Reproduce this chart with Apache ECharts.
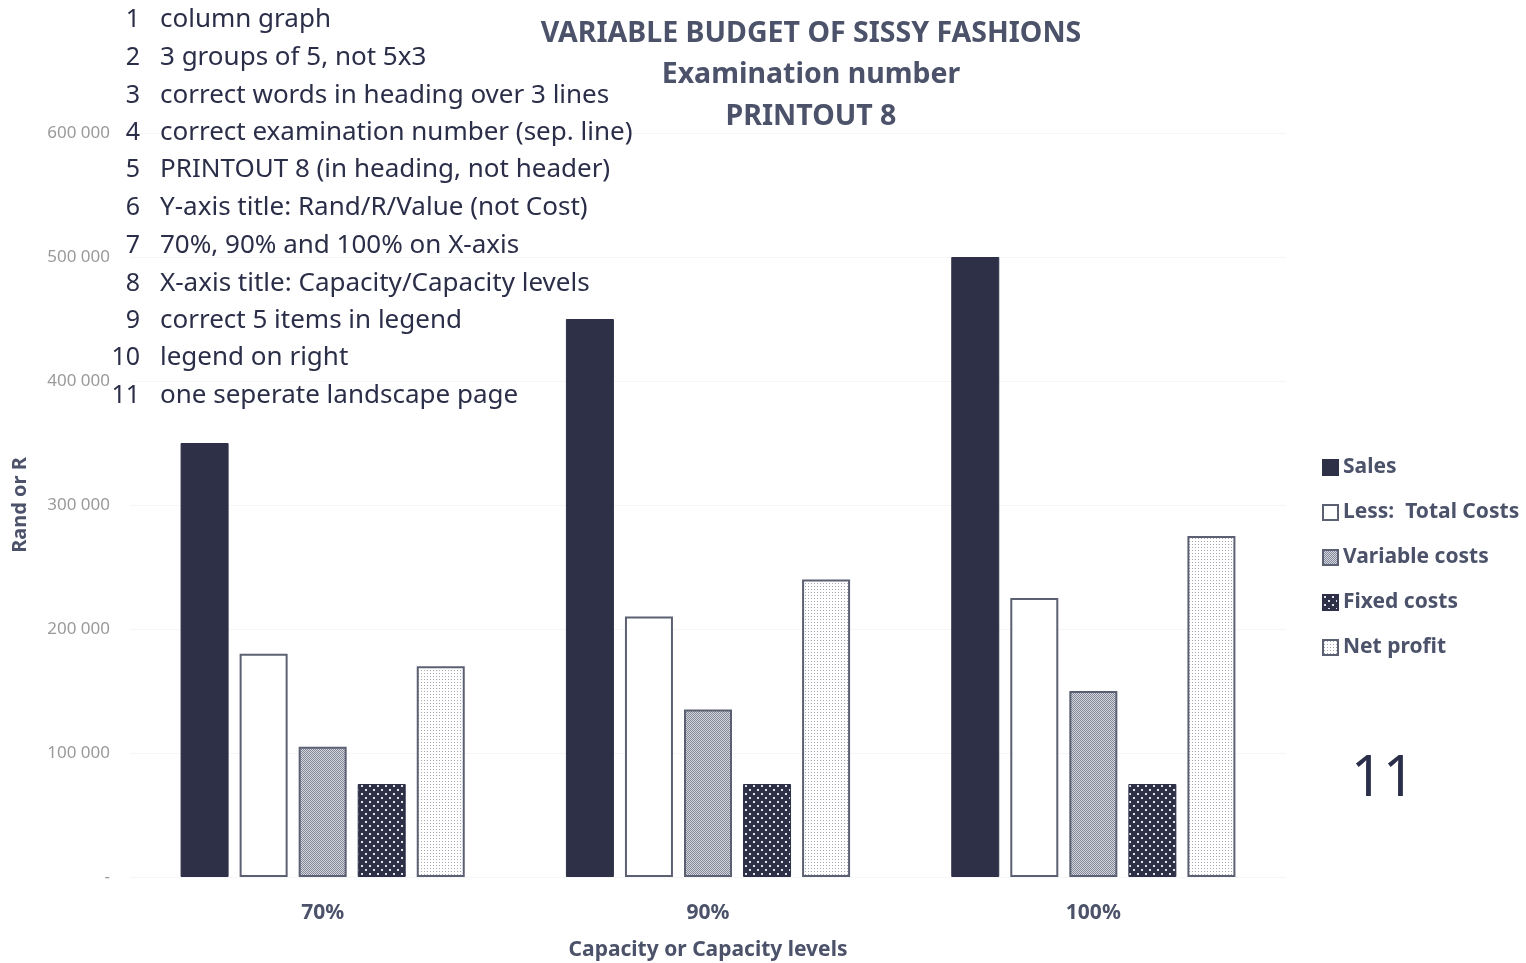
<!DOCTYPE html>
<html>
<head>
<meta charset="utf-8">
<script src="https://cdn.jsdelivr.net/npm/echarts@6/dist/echarts.min.js"></script>
<style>
  html, body { margin: 0; padding: 0; background: #fff; }
  #main { width: 1526px; height: 963px; }
</style>
</head>
<body>
<div id="main"></div>
<script>
var categories = ['70%', '90%', '100%'];
var seriesNames = ['Sales', 'Less:  Total Costs', 'Variable costs', 'Fixed costs', 'Net profit'];
var sales = [350000, 450000, 500000];
var totalCosts = [180000, 210000, 225000];
var variableCosts = [105000, 135000, 150000];
var fixedCosts = [75000, 75000, 75000];
var netProfit = [170000, 240000, 275000];
var notes = [
  'column graph',
  '3 groups of 5, not 5x3',
  'correct words in heading over 3 lines',
  'correct examination number (sep. line)',
  'PRINTOUT 8 (in heading, not header)',
  'Y-axis title: Rand/R/Value (not Cost)',
  '70%, 90% and 100% on X-axis',
  'X-axis title: Capacity/Capacity levels',
  'correct 5 items in legend',
  'legend on right',
  'one seperate landscape page'
];

var ink = '#2b2e48';
var textCol = '#4b5269';

// little canvas tiles for the hatched fills
function tile(size, bg, fg, dots) {
  var c = document.createElement('canvas');
  c.width = size; c.height = size;
  var g = c.getContext('2d');
  g.fillStyle = bg; g.fillRect(0, 0, size, size);
  g.fillStyle = fg;
  dots.forEach(function (d) { g.fillRect(d[0], d[1], d[2], d[2]); });
  return { image: c, repeat: 'repeat' };
}
var varFill = tile(2, '#d3d5dc', '#858999', [[0, 0, 1], [1, 1, 1]]);
var fixFill = tile(8, '#2e3048', '#e3e4ea', [[1, 1, 2], [5, 5, 2]]);
var netFill = tile(3, '#ffffff', '#a3a6b3', [[1, 1, 1]]);

var myChar = echarts.init(document.getElementById('main'));

var graphics = [];
notes.forEach(function (t, i) {
  var y = [20, 58, 96, 133, 170, 208, 246, 284, 321, 358, 396][i];
  graphics.push({
    type: 'text', x: 140, y: y, z: 100,
    style: { text: String(i + 1), fill: ink, font: '25px "Noto Sans"', align: 'right', verticalAlign: 'middle' }
  });
  graphics.push({
    type: 'text', x: 160, y: y, z: 100,
    style: { text: t, fill: ink, font: '26px "Noto Sans"', align: 'left', verticalAlign: 'middle' }
  });
});
graphics.push({
  type: 'text', x: 1383, y: 780,
  style: { text: '11', fill: ink, font: '56px "Noto Sans"', align: 'center', verticalAlign: 'middle' }
});

var myOption = {
  backgroundColor: '#fff',
  title: {
    text: 'VARIABLE BUDGET OF SISSY FASHIONS\nExamination number\nPRINTOUT 8',
    left: 806,
    top: 8,
    textAlign: 'center',
    textStyle: {
      fontFamily: 'Noto Sans',
      fontSize: 28.5,
      fontWeight: 'bold',
      color: textCol,
      lineHeight: 41.5
    }
  },
  grid: {
    left: 130,
    right: 240,
    top: 133,
    bottom: 86,
    containLabel: false,
    outerBoundsMode: 'none'
  },
  legend: {
    orient: 'vertical',
    left: 1317,
    top: 452,
    itemWidth: 15,
    itemHeight: 15,
    itemGap: 24,
    icon: 'rect',
    textStyle: {
      fontFamily: 'Noto Sans',
      fontSize: 21,
      lineHeight: 20,
      fontWeight: 'bold',
      color: textCol
    },
    data: seriesNames
  },
  xAxis: {
    type: 'category',
    data: categories,
    name: 'Capacity or Capacity levels',
    nameLocation: 'middle',
    nameGap: 63,
    nameTextStyle: { fontFamily: 'Noto Sans', fontSize: 21, fontWeight: 'bold', color: textCol },
    axisLine: { show: false },
    axisTick: { show: false },
    axisLabel: { margin: 26, fontFamily: 'Noto Sans', fontSize: 21, fontWeight: 'bold', color: textCol }
  },
  yAxis: {
    type: 'value',
    min: 0,
    max: 600000,
    interval: 100000,
    name: 'Rand or R',
    nameLocation: 'middle',
    nameGap: 100,
    nameTextStyle: { fontFamily: 'Noto Sans', fontSize: 20, fontWeight: 'bold', color: textCol },
    splitLine: { lineStyle: { color: '#f6f6f6' } },
    axisLabel: {
      margin: 20,
      fontFamily: 'Noto Sans',
      fontSize: 17,
      color: '#9a9a9a',
      formatter: function (value) {
        if (value === 0) return '-';
        return String(value).replace(/\B(?=(\d{3})+(?!\d))/g, ' ');
      }
    }
  },
  series: [
    { name: seriesNames[0], type: 'bar', barWidth: 48, barGap: '23%', data: sales,
      itemStyle: { color: '#2e3048', borderColor: '#2e3048', borderWidth: 1 } },
    { name: seriesNames[1], type: 'bar', barWidth: 48, barGap: '23%', data: totalCosts,
      itemStyle: { color: '#ffffff', borderColor: '#5c6073', borderWidth: 2 } },
    { name: seriesNames[2], type: 'bar', barWidth: 48, barGap: '23%', data: variableCosts,
      itemStyle: { color: varFill, borderColor: '#5c6073', borderWidth: 2 } },
    { name: seriesNames[3], type: 'bar', barWidth: 48, barGap: '23%', data: fixedCosts,
      itemStyle: { color: fixFill, borderColor: '#2e3048', borderWidth: 1 } },
    { name: seriesNames[4], type: 'bar', barWidth: 48, barGap: '23%', data: netProfit,
      itemStyle: { color: netFill, borderColor: '#5c6073', borderWidth: 2 } }
  ],
  graphic: graphics
};
myChar.setOption(myOption);
</script>
</body>
</html>
